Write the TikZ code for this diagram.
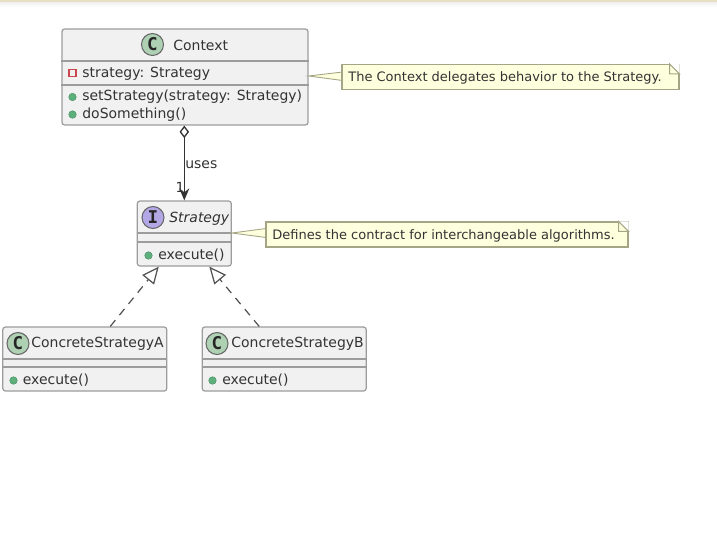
\documentclass[tikz,border=0pt]{standalone}
\usepackage{fontspec}
\setmainfont{DejaVu Sans}
\newfontfamily\monobold{DejaVu Sans Mono}[BoldFont=* Bold]
\definecolor{UMLbox}{HTML}{F1F1F1}
\definecolor{UMLline}{HTML}{9C9C9C}
\definecolor{UMLtext}{HTML}{333333}
\definecolor{UMLclass}{HTML}{ADD1B2}
\definecolor{UMLiface}{HTML}{B4A7E5}
\definecolor{UMLnote}{HTML}{FEFFDD}
\definecolor{UMLnoteline}{HTML}{A5A585}
\definecolor{UMLgreen}{HTML}{5DAF7C}
\definecolor{UMLred}{HTML}{C8484E}
\definecolor{UMLband}{HTML}{E9E0C4}
\usetikzlibrary{arrows.meta, calc, positioning}

\begin{document}
\begin{tikzpicture}[
      x=0.02cm, y=-0.02cm,
      box/.style={draw=UMLline, fill=UMLbox, line width=0.7pt, rounded corners=1.5pt, inner sep=0pt},
      sep/.style={UMLline, line width=0.6pt},
      badge/.style={circle, draw=black!60, line width=0.6pt, minimum size=0.44cm, inner sep=0pt, font=\fontsize{10}{10}\monobold\bfseries, text=black!85},
      txt/.style={font=\fontsize{7.95}{10}\selectfont, text=UMLtext, inner sep=0pt},
      mem/.style={txt, anchor=west},
      notetxt/.style={txt, anchor=west, font=\fontsize{7.4}{10}\selectfont},
      pub/.style={circle, draw=UMLgreen!85!black, fill=UMLgreen, minimum size=0.15cm, inner sep=0pt, line width=0.3pt},
      priv/.style={rectangle, draw=UMLred, fill=UMLbox, minimum size=0.14cm, inner sep=0pt, line width=0.6pt},
      note/.style={draw=UMLnoteline, fill=UMLnote, line width=0.7pt, inner sep=0pt},
      notetail/.style={draw=UMLnoteline, fill=UMLnote, line width=0.5pt},
      realize/.style={-{Triangle[open, fill=white, length=0.34cm, width=0.3cm]}, UMLtext!85, dashed, dash pattern=on 0.16cm off 0.13cm, line width=0.7pt},
   ]
      \useasboundingbox (0,0) rectangle (717,535);

      % band along the top
      \fill[UMLband] (0,0) rectangle (717,2);
      \shade[top color=black!6, bottom color=white] (0,2) rectangle (717,7);

      % Context
      \node[box, minimum width=4.92cm, minimum height=1.92cm] (context) at (185,77) {};
      \draw[sep] (context.west |- 0,61) -- (context.east |- 0,61);
      \draw[sep] (context.west |- 0,85) -- (context.east |- 0,85);
      \node[badge, fill=UMLclass] (ctxbadge) at (152.5,44.5) {C};
      \node[txt, anchor=west] (ctxname) at (173,45) {Context};
      \node[priv] (ctxpriv) at (72.5,73) {};
      \node[mem] (ctxattr) at (82,73.5) {strategy: Strategy};
      \node[pub] (ctxpubA) at (72.5,97) {};
      \node[mem] (ctxset) at (82,97) {setStrategy(strategy: Strategy)};
      \node[pub] (ctxpubB) at (72.5,114.5) {};
      \node[mem] (ctxdo) at (82,114.5) {doSomething()};

      % Strategy
      \node[box, minimum width=1.88cm, minimum height=1.3cm] (strategy) at (184.3,233.5) {};
      \draw[sep] (strategy.west |- 0,233) -- (strategy.east |- 0,233);
      \draw[sep] (strategy.west |- 0,242) -- (strategy.east |- 0,242);
      \node[badge, fill=UMLiface] (stratbadge) at (153,217.5) {I};
      \node[txt, anchor=west, font=\fontsize{7.95}{10}\selectfont\itshape] (stratname) at (169,219) {Strategy};
      \node[pub] (stratpub) at (148.5,255.5) {};
      \node[mem] (stratexec) at (158,255.5) {execute()};

      % ConcreteStrategyA
      \node[box, minimum width=3.28cm, minimum height=1.28cm] (csA) at (84.8,359) {};
      \draw[sep] (csA.west |- 0,359) -- (csA.east |- 0,359);
      \draw[sep] (csA.west |- 0,367) -- (csA.east |- 0,367);
      \node[badge, fill=UMLclass] (csAbadge) at (18,343.5) {C};
      \node[txt, anchor=west] (csAname) at (31,344) {ConcreteStrategyA};
      \node[pub] (csApub) at (13.5,380.5) {};
      \node[mem] (csAexec) at (22.5,380.5) {execute()};

      % ConcreteStrategyB
      \node[box, minimum width=3.28cm, minimum height=1.28cm] (csB) at (284.2,359) {};
      \draw[sep] (csB.west |- 0,359) -- (csB.east |- 0,359);
      \draw[sep] (csB.west |- 0,367) -- (csB.east |- 0,367);
      \node[badge, fill=UMLclass] (csBbadge) at (217,343.5) {C};
      \node[txt, anchor=west] (csBname) at (231,344) {ConcreteStrategyB};
      \node[pub] (csBpub) at (212.5,380.5) {};
      \node[mem] (csBexec) at (222,380.5) {execute()};

      % notes
      \draw[notetail] (context.east |- 0,76) -- (342.5,72) -- (342.5,80.5) -- cycle;
      \node[note, minimum width=6.74cm, minimum height=0.5cm] (ctxnote) at (510.5,77) {};
      \node[notetxt] (ctxnotetext) at (348,78) {The Context delegates behavior to the Strategy.};
      \fill[white] ($(ctxnote.north east)+(-10,0)$) -- (ctxnote.north east) -- ($(ctxnote.north east)+(0,10)$) -- cycle;
      \draw[UMLnoteline, line width=0.6pt] ($(ctxnote.north east)+(-10,0)$) -- ($(ctxnote.north east)+(0,10)$) -- ++(-10,0) -- cycle;

      \draw[notetail] (strategy.east |- 0,233) -- (266,228.5) -- (266,237.5) -- cycle;
      \node[note, minimum width=7.24cm, minimum height=0.5cm] (stratnote) at (447,234.5) {};
      \node[notetxt] (stratnotetext) at (272,235.5) {Defines the contract for interchangeable algorithms.};
      \fill[white] ($(stratnote.north east)+(-10,0)$) -- (stratnote.north east) -- ($(stratnote.north east)+(0,10)$) -- cycle;
      \draw[UMLnoteline, line width=0.6pt] ($(stratnote.north east)+(-10,0)$) -- ($(stratnote.north east)+(0,10)$) -- ++(-10,0) -- cycle;

      % uses
      \draw[{Diamond[open, fill=white, length=0.25cm, width=0.19cm]}-{Stealth[length=0.24cm, width=0.2cm]}, UMLtext, line width=0.75pt]
         (context.south -| strategy.north) -- (strategy.north);
      \node[txt, anchor=west] (useslbl) at (185,165) {uses};
      \node[txt] (usesone) at (180,187.5) {1};

      % realizations
      \draw[realize] ($(csA.north)+(25.5,0)$) -- ($(strategy.south)+(-25.5,0)$);
      \draw[realize] ($(csB.north)+(-25,0)$) -- ($(strategy.south)+(25,0)$);
   \end{tikzpicture}
\end{document}
